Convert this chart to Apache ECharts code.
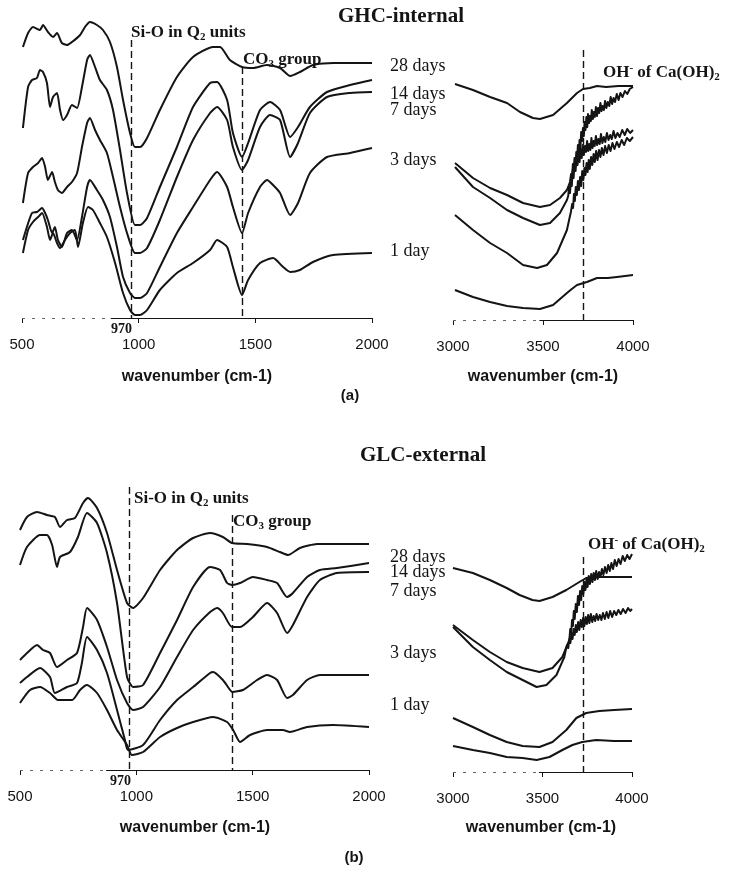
<!DOCTYPE html>
<html>
<head>
<meta charset="utf-8">
<script src="https://cdn.jsdelivr.net/npm/echarts@6/dist/echarts.min.js"></script>
<style>
  html, body { margin: 0; padding: 0; background: #fff; }
  #chart { width: 732px; height: 870px; }
</style>
</head>
<body>
<div id="chart"></div>
<script>
// FTIR spectra (transmittance, arbitrary offset units) vs wavenumber (cm-1)
const ageLabels = ['28 days', '14 days', '7 days', '3 days', '1 day'];
const midTicks = [500, 1000, 1500, 2000];
const highTicks = [3000, 3500, 4000];
const siOBand = 970;          // Si-O in Q2 units
const co3BandGHC = 1443;      // CO3 group, GHC-internal
const co3BandGLC = 1411;      // CO3 group, GLC-external
const ohBand = 3725;          // OH- of Ca(OH)2

// ---- GHC-internal, 500-2000 cm-1 ----
const ghcMid28 = [[504,271],[526,285],[547,291],[577,288],[590,293],[611,286],[633,281],[650,285],[671,275],[693,273],[714,276],[749,283],[770,291],[791,296],[821,293],[847,288],[877,276],[907,251],[933,218],[963,185],[984,171],[1006,171],[1036,180],[1091,208],[1164,241],[1233,261],[1319,271],[1349,271],[1391,258],[1443,251],[1490,250],[1550,253],[1606,250],[1649,242],[1691,246],[1747,253],[1833,255],[2000,255]];
const ghcMid14 = [[504,190],[526,231],[543,238],[564,240],[577,248],[590,246],[607,235],[620,211],[633,221],[650,225],[663,208],[676,198],[693,203],[714,213],[736,210],[757,231],[779,258],[791,263],[813,251],[834,238],[864,228],[890,208],[920,168],[950,125],[984,93],[1006,93],[1036,100],[1091,131],[1164,171],[1233,211],[1306,235],[1336,236],[1379,218],[1404,185],[1443,161],[1469,175],[1520,208],[1563,216],[1606,208],[1649,181],[1683,191],[1734,211],[1807,226],[1906,233],[2000,238]];
const ghcMid7 = [[504,115],[526,145],[547,151],[569,155],[586,160],[599,151],[611,138],[629,146],[641,136],[654,128],[671,125],[693,131],[714,136],[736,145],[757,171],[779,195],[791,200],[813,188],[834,178],[864,165],[890,141],[920,111],[950,85],[984,65],[1006,65],[1036,70],[1091,98],[1164,141],[1233,178],[1306,205],[1336,211],[1379,198],[1404,171],[1443,148],[1469,158],[1520,191],[1563,203],[1606,198],[1649,161],[1683,175],[1734,205],[1807,221],[1906,225],[2000,226]];
const ghcMid3 = [[504,78],[521,91],[543,105],[564,106],[586,110],[599,105],[611,98],[629,85],[641,91],[654,78],[671,71],[693,85],[714,88],[736,78],[757,101],[779,131],[791,138],[821,128],[847,118],[877,101],[907,71],[933,41],[963,25],[984,20],[1006,20],[1036,25],[1091,51],[1164,85],[1233,111],[1306,138],[1336,146],[1379,131],[1404,111],[1443,85],[1469,105],[1520,131],[1550,138],[1576,133],[1606,125],[1649,103],[1683,115],[1734,145],[1807,161],[1906,165],[2000,170]];
const ghcMid1 = [[504,65],[526,88],[547,96],[569,101],[586,105],[607,91],[620,78],[633,85],[650,75],[663,70],[684,78],[706,85],[727,88],[740,71],[761,95],[783,111],[804,108],[834,95],[864,81],[899,55],[933,25],[963,8],[984,3],[1006,3],[1036,8],[1091,28],[1164,45],[1233,55],[1306,68],[1336,78],[1379,71],[1404,51],[1443,23],[1469,38],[1520,55],[1576,60],[1619,51],[1649,46],[1691,48],[1747,56],[1833,63],[2000,65]];

// ---- GHC-internal, 3000-4000 cm-1 ----
const ghcHigh28 = [[3011,236],[3111,230],[3206,223],[3300,217],[3372,208],[3444,202],[3483,201],[3556,205],[3633,217],[3689,227],[3722,231],[3760,232],[3800,234],[3850,233],[3920,234],[4000,234]];
const ghcHigh14 = [[3011,157],[3111,142],[3206,132],[3300,125],[3389,117],[3483,113],[3539,115],[3594,122],[3633,130],[3650,138],[3656,146],[3661,141],[3666,156],[3671,150],[3675,162],[3680,153],[3685,168],[3689,161],[3694,175],[3699,166],[3703,180],[3708,172],[3712,188],[3717,179],[3722,192],[3727,184],[3731,198],[3736,190],[3741,203],[3746,193],[3750,206],[3756,197],[3761,204],[3766,199],[3771,210],[3777,201],[3782,208],[3788,203],[3794,213],[3800,204],[3806,212],[3812,207],[3819,217],[3825,209],[3831,214],[3838,210],[3845,219],[3852,212],[3860,218],[3868,214],[3876,223],[3884,216],[3892,222],[3900,218],[3910,226],[3920,220],[3930,227],[3942,223],[3955,229],[3968,226],[3982,231],[4000,233]];
const ghcHigh7 = [[3011,153],[3111,133],[3206,122],[3300,110],[3389,102],[3483,95],[3539,97],[3594,107],[3633,120],[3640,124],[3645,133],[3650,127],[3655,140],[3660,134],[3665,150],[3670,142],[3675,157],[3681,149],[3686,163],[3692,155],[3697,168],[3703,158],[3709,171],[3715,162],[3721,175],[3727,165],[3733,174],[3739,168],[3745,179],[3751,169],[3757,176],[3763,170],[3769,182],[3775,172],[3781,179],[3787,174],[3794,184],[3801,175],[3808,181],[3815,176],[3822,186],[3830,177],[3838,183],[3846,178],[3855,187],[3864,180],[3873,185],[3882,181],[3892,189],[3902,182],[3914,187],[3926,183],[3940,190],[3954,185],[3968,191],[3984,187],[4000,190]];
const ghcHigh3 = [[3011,105],[3111,90],[3206,77],[3300,67],[3389,55],[3467,52],[3522,55],[3578,67],[3633,90],[3645,100],[3655,108],[3662,116],[3667,112],[3672,126],[3677,119],[3682,133],[3688,125],[3694,139],[3700,130],[3706,143],[3712,134],[3718,149],[3724,140],[3730,152],[3736,145],[3742,157],[3748,148],[3754,160],[3760,151],[3767,163],[3774,155],[3781,166],[3788,158],[3795,169],[3803,160],[3811,170],[3819,163],[3827,172],[3836,165],[3845,174],[3855,167],[3865,175],[3875,169],[3886,177],[3897,171],[3910,178],[3923,173],[3937,180],[3951,175],[3966,182],[3982,179],[4000,183]];
const ghcHigh1 = [[3011,30],[3111,23],[3206,18],[3300,14],[3389,12],[3483,11],[3556,15],[3633,27],[3660,31],[3689,35],[3744,38],[3800,42],[3860,42],[3911,43],[4000,45]];

// ---- GLC-external, 500-2000 cm-1 ----
const glcMid28 = [[500,240],[530,253],[573,258],[616,255],[650,253],[672,243],[702,250],[736,252],[771,267],[792,272],[831,262],[874,237],[917,200],[960,167],[986,162],[1029,172],[1102,200],[1175,220],[1244,232],[1317,237],[1372,233],[1411,227],[1476,226],[1562,223],[1617,218],[1652,215],[1703,222],[1777,226],[2000,226]];
const glcMid14 = [[500,205],[530,223],[586,235],[616,235],[638,225],[659,203],[672,213],[715,218],[749,233],[788,257],[831,247],[874,217],[917,167],[960,93],[986,83],[1029,85],[1102,117],[1175,150],[1244,183],[1317,203],[1360,200],[1390,187],[1411,185],[1446,187],[1501,193],[1562,190],[1605,187],[1648,173],[1673,177],[1734,193],[1789,200],[1862,202],[2000,207]];
const glcMid7 = [[500,110],[530,117],[573,125],[599,120],[629,117],[659,103],[702,110],[745,117],[771,143],[788,162],[831,150],[874,123],[917,90],[960,67],[986,60],[1029,63],[1102,83],[1175,113],[1244,140],[1317,158],[1347,162],[1372,157],[1411,143],[1446,143],[1501,153],[1562,167],[1605,157],[1648,137],[1673,145],[1734,173],[1789,190],[1862,197],[2000,198]];
const glcMid3 = [[500,87],[530,93],[586,102],[629,93],[650,77],[702,83],[745,87],[766,107],[788,133],[831,120],[874,97],[917,60],[951,30],[964,20],[1029,25],[1102,50],[1175,70],[1244,83],[1317,97],[1330,98],[1372,90],[1403,80],[1411,78],[1458,80],[1519,90],[1562,95],[1605,90],[1648,72],[1673,75],[1734,90],[1789,95],[2000,95]];
const glcMid1 = [[500,67],[543,80],[586,83],[629,77],[663,70],[724,70],[758,80],[788,85],[831,77],[874,60],[917,40],[960,25],[981,15],[1029,18],[1102,33],[1175,42],[1244,48],[1330,53],[1390,48],[1416,40],[1446,28],[1489,35],[1562,40],[1630,40],[1660,38],[1734,43],[1845,45],[2000,43]];

// ---- GLC-external, 3000-4000 cm-1 ----
const glcHigh28 = [[3000,204],[3111,199],[3206,192],[3300,184],[3372,177],[3444,172],[3483,171],[3556,175],[3633,182],[3706,190],[3744,194],[3817,195],[3900,195],[4000,195]];
const glcHigh14 = [[3000,147],[3111,132],[3206,120],[3300,110],[3389,104],[3483,100],[3556,104],[3611,115],[3650,132],[3655,143],[3660,138],[3665,152],[3670,146],[3675,161],[3680,153],[3686,168],[3692,160],[3698,176],[3704,167],[3710,181],[3716,172],[3722,186],[3728,178],[3734,190],[3740,182],[3746,193],[3752,185],[3758,196],[3765,188],[3772,198],[3779,190],[3786,199],[3793,192],[3800,201],[3808,193],[3816,200],[3824,195],[3832,203],[3840,197],[3849,205],[3858,199],[3867,207],[3876,201],[3885,209],[3894,203],[3904,212],[3914,206],[3925,213],[3936,208],[3948,216],[3960,211],[3973,217],[3986,213],[4000,218]];
const glcHigh7 = [[3000,145],[3111,125],[3206,112],[3300,100],[3389,92],[3467,85],[3522,87],[3578,97],[3622,115],[3630,122],[3637,127],[3644,124],[3650,133],[3656,129],[3662,139],[3668,133],[3674,143],[3680,137],[3686,147],[3692,140],[3699,150],[3706,142],[3713,152],[3720,145],[3727,154],[3734,146],[3741,155],[3748,148],[3755,157],[3762,149],[3770,158],[3778,150],[3786,156],[3794,151],[3802,158],[3811,152],[3820,157],[3829,152],[3838,159],[3848,153],[3858,160],[3868,154],[3878,161],[3889,155],[3900,161],[3912,157],[3924,162],[3937,158],[3950,163],[3964,159],[3978,164],[3990,161],[4000,163]];
const glcHigh3 = [[3000,54],[3111,45],[3206,37],[3300,30],[3389,26],[3483,25],[3556,30],[3633,42],[3689,54],[3744,59],[3817,61],[3900,62],[4000,63]];
const glcHigh1 = [[3000,26],[3111,22],[3206,19],[3300,15],[3389,14],[3467,12],[3539,15],[3611,22],[3667,27],[3722,30],[3800,32],[3900,31],[4000,31]];

const SERIF = "'Liberation Serif', 'Times New Roman', serif";
const SANS = "'Liberation Sans', Arial, sans-serif";
const INK = '#141414';

const chart = echarts.init(document.getElementById('chart'), null, { renderer: 'canvas' });

// plotting areas; y scale 0..300 spans the full height of each
const grids = [
  { left: 22, top: 18, width: 350, height: 300 },   // GHC mid-IR
  { left: 453, top: 20, width: 180, height: 300 },  // GHC high
  { left: 20, top: 470, width: 349, height: 300 },  // GLC mid-IR
  { left: 453, top: 472, width: 179, height: 300 }  // GLC high
];

function xAxisFor(idx, ticks) {
  return {
    gridIndex: idx, type: 'value',
    min: ticks[0], max: ticks[ticks.length - 1], interval: 500,
    axisLine: { show: false },
    axisTick: { show: true, length: 5, lineStyle: { color: INK, width: 1 } },
    splitLine: { show: false },
    axisLabel: {
      margin: 19, fontSize: 15, color: INK, fontFamily: SANS,
      showMinLabel: true, showMaxLabel: true,
      formatter: v => ticks.indexOf(v) >= 0 ? String(v) : ''
    }
  };
}
function yAxisFor(idx) {
  return { gridIndex: idx, type: 'value', min: 0, max: 300, show: false };
}

function seg(x1, y1, x2, y2, style) {
  return [{ coord: [x1, y1], lineStyle: style }, { coord: [x2, y2], lineStyle: style }];
}
const baseFaint = { type: [3, 7], width: 1, color: '#666' };
const baseSolid = { type: 'solid', width: 1.2, color: INK };
const guide = { type: [7, 4], width: 1.4, color: INK };

function markLines(lines) {
  return {
    silent: true, symbol: ['none', 'none'], animation: false,
    label: { show: false }, emphasis: { disabled: true },
    data: lines
  };
}

const panels = [
  { idx: 0, smooth: 0.2, curves: [ghcMid28, ghcMid14, ghcMid7, ghcMid3, ghcMid1],
    lines: [seg(500, 0, 880, 0, baseFaint), seg(880, 0, 2000, 0, baseSolid),
            seg(siOBand, 278, siOBand, 0, guide), seg(co3BandGHC, 251, co3BandGHC, 0, guide)] },
  { idx: 1, smooth: false, curves: [ghcHigh28, ghcHigh14, ghcHigh7, ghcHigh3, ghcHigh1],
    lines: [seg(3000, 0, 3480, 0, baseFaint), seg(3480, 0, 4000, 0, baseSolid),
            seg(ohBand, 270, ohBand, 0, guide)] },
  { idx: 2, smooth: 0.2, curves: [glcMid28, glcMid14, glcMid7, glcMid3, glcMid1],
    lines: [seg(500, 0, 870, 0, baseFaint), seg(870, 0, 2000, 0, baseSolid),
            seg(siOBand, 283, siOBand, 0, guide), seg(co3BandGLC, 255, co3BandGLC, 0, guide)] },
  { idx: 3, smooth: false, curves: [glcHigh28, glcHigh14, glcHigh7, glcHigh3, glcHigh1],
    lines: [seg(3000, 0, 3480, 0, baseFaint), seg(3480, 0, 4000, 0, baseSolid),
            seg(ohBand, 215, ohBand, 0, guide)] }
];

const series = [];
panels.forEach(p => {
  p.curves.forEach((data, k) => {
    const s = {
      type: 'line', name: ageLabels[k], xAxisIndex: p.idx, yAxisIndex: p.idx,
      data: data, showSymbol: false, symbol: 'none', smooth: p.smooth,
      lineStyle: { width: 2, color: INK, join: 'round' }, silent: true, animation: false
    };
    if (k === 0) s.markLine = markLines(p.lines);
    series.push(s);
  });
});

// text helpers
function txt(text, x, y, opts) {
  return {
    type: 'text', x: x, y: y, silent: true,
    style: Object.assign({
      text: text, fill: INK, textAlign: 'left', align: 'left',
      textVerticalAlign: 'middle', verticalAlign: 'middle'
    }, opts)
  };
}
const bandRich = {
  a: { fontFamily: SERIF, fontWeight: 'bold', fontSize: 17, lineHeight: 20, color: INK },
  sub: { fontFamily: SERIF, fontWeight: 'bold', fontSize: 11, lineHeight: 8, verticalAlign: 'bottom', color: INK },
  sup: { fontFamily: SERIF, fontWeight: 'bold', fontSize: 11, lineHeight: 10, verticalAlign: 'top', color: INK }
};
function band(rich, x, y) { return txt(rich, x, y, { rich: bandRich }); }

const dayFont = { fontFamily: SERIF, fontSize: 18, fontWeight: 'normal' };
const titleFont = { fontFamily: SERIF, fontSize: 21, fontWeight: 'bold', textAlign: 'center', align: 'center' };
const axisNameFont = { fontFamily: SANS, fontSize: 16, fontWeight: 'bold', textAlign: 'center', align: 'center' };
const panelTagFont = { fontFamily: SANS, fontSize: 15, fontWeight: 'bold', textAlign: 'center', align: 'center' };
const bandValueFont = { fontFamily: SERIF, fontSize: 14, fontWeight: 'bold', textAlign: 'right', align: 'right' };

const ghcDayY = [66, 94, 110, 160, 251];
const glcDayY = [557, 572, 591, 653, 705];

const graphics = [
  txt('GHC-internal', 401, 17, titleFont),
  txt('GLC-external', 423, 456, titleFont),
  band('{a|Si-O in Q}{sub|2}{a| units}', 131, 33),
  band('{a|CO}{sub|3}{a| group}', 243, 60),
  band('{a|OH}{sup|-}{a| of Ca(OH)}{sub|2}', 603, 73),
  band('{a|Si-O in Q}{sub|2}{a| units}', 134, 499),
  band('{a|CO}{sub|3}{a| group}', 233, 522),
  band('{a|OH}{sup|-}{a| of Ca(OH)}{sub|2}', 588, 545),
  txt(String(siOBand), 132, 329, bandValueFont),
  txt(String(siOBand), 131, 781, bandValueFont),
  txt('wavenumber (cm-1)', 197, 377, axisNameFont),
  txt('wavenumber (cm-1)', 543, 377, axisNameFont),
  txt('wavenumber (cm-1)', 195, 828, axisNameFont),
  txt('wavenumber (cm-1)', 541, 828, axisNameFont),
  txt('(a)', 350, 396, panelTagFont),
  txt('(b)', 354, 858, panelTagFont)
];
ageLabels.forEach((lab, i) => {
  graphics.push(txt(lab, 390, ghcDayY[i], dayFont));
  graphics.push(txt(lab, 390, glcDayY[i], dayFont));
});

chart.setOption({
  backgroundColor: '#ffffff',
  animation: false,
  grid: grids,
  xAxis: [xAxisFor(0, midTicks), xAxisFor(1, highTicks), xAxisFor(2, midTicks), xAxisFor(3, highTicks)],
  yAxis: [yAxisFor(0), yAxisFor(1), yAxisFor(2), yAxisFor(3)],
  series: series,
  graphic: graphics
});
</script>
</body>
</html>
